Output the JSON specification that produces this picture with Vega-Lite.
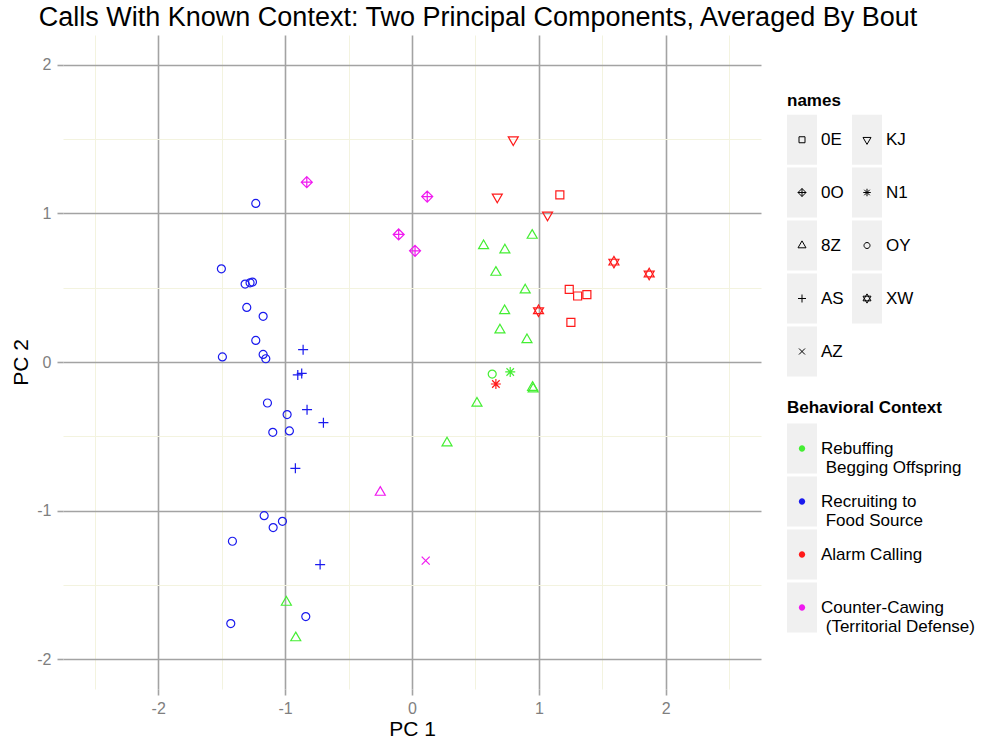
{
  "$schema": "https://vega.github.io/schema/vega-lite/v6.json",
  "width": 698,
  "height": 654,
  "autosize": {"type": "none"},
  "padding": {"left": 63, "top": 35, "right": 225, "bottom": 55},
  "background": "white",
  "config": {"font": "Liberation Sans", "view": {"stroke": null}, "style": {"guide-label": {"lineHeight": 19}}},
  "title": {
    "text": "Calls With Known Context: Two Principal Components, Averaged By Bout",
    "fontSize": 27, "fontWeight": "normal", "color": "black",
    "anchor": "middle", "frame": "group", "dx": 66, "dy": 26, "baseline": "alphabetic", "offset": 8
  },
  "data": {"values": [
    {"pc1": -1.231, "pc2": 1.067, "name": "OY", "context": "Recruiting to\n Food Source"},
    {"pc1": -1.502, "pc2": 0.627, "name": "OY", "context": "Recruiting to\n Food Source"},
    {"pc1": -1.315, "pc2": 0.524, "name": "OY", "context": "Recruiting to\n Food Source"},
    {"pc1": -1.276, "pc2": 0.533, "name": "OY", "context": "Recruiting to\n Food Source"},
    {"pc1": -1.257, "pc2": 0.538, "name": "OY", "context": "Recruiting to\n Food Source"},
    {"pc1": -1.302, "pc2": 0.367, "name": "OY", "context": "Recruiting to\n Food Source"},
    {"pc1": -1.173, "pc2": 0.307, "name": "OY", "context": "Recruiting to\n Food Source"},
    {"pc1": -1.231, "pc2": 0.145, "name": "OY", "context": "Recruiting to\n Food Source"},
    {"pc1": -1.494, "pc2": 0.034, "name": "OY", "context": "Recruiting to\n Food Source"},
    {"pc1": -1.173, "pc2": 0.051, "name": "OY", "context": "Recruiting to\n Food Source"},
    {"pc1": -1.152, "pc2": 0.022, "name": "OY", "context": "Recruiting to\n Food Source"},
    {"pc1": -1.139, "pc2": -0.276, "name": "OY", "context": "Recruiting to\n Food Source"},
    {"pc1": -0.984, "pc2": -0.354, "name": "OY", "context": "Recruiting to\n Food Source"},
    {"pc1": -1.097, "pc2": -0.473, "name": "OY", "context": "Recruiting to\n Food Source"},
    {"pc1": -0.966, "pc2": -0.464, "name": "OY", "context": "Recruiting to\n Food Source"},
    {"pc1": -1.165, "pc2": -1.034, "name": "OY", "context": "Recruiting to\n Food Source"},
    {"pc1": -1.021, "pc2": -1.072, "name": "OY", "context": "Recruiting to\n Food Source"},
    {"pc1": -1.094, "pc2": -1.114, "name": "OY", "context": "Recruiting to\n Food Source"},
    {"pc1": -1.415, "pc2": -1.206, "name": "OY", "context": "Recruiting to\n Food Source"},
    {"pc1": -0.837, "pc2": -1.713, "name": "OY", "context": "Recruiting to\n Food Source"},
    {"pc1": -1.428, "pc2": -1.760, "name": "OY", "context": "Recruiting to\n Food Source"},
    {"pc1": -0.858, "pc2": 0.083, "name": "AS", "context": "Recruiting to\n Food Source"},
    {"pc1": -0.900, "pc2": -0.087, "name": "AS", "context": "Recruiting to\n Food Source"},
    {"pc1": -0.869, "pc2": -0.077, "name": "AS", "context": "Recruiting to\n Food Source"},
    {"pc1": -0.827, "pc2": -0.321, "name": "AS", "context": "Recruiting to\n Food Source"},
    {"pc1": -0.698, "pc2": -0.408, "name": "AS", "context": "Recruiting to\n Food Source"},
    {"pc1": -0.919, "pc2": -0.715, "name": "AS", "context": "Recruiting to\n Food Source"},
    {"pc1": -0.724, "pc2": -1.363, "name": "AS", "context": "Recruiting to\n Food Source"},
    {"pc1": -0.990, "pc2": -1.617, "name": "8Z", "context": "Rebuffing\n Begging Offspring"},
    {"pc1": -0.916, "pc2": -1.856, "name": "8Z", "context": "Rebuffing\n Begging Offspring"},
    {"pc1": 0.947, "pc2": 0.852, "name": "8Z", "context": "Rebuffing\n Begging Offspring"},
    {"pc1": 0.564, "pc2": 0.782, "name": "8Z", "context": "Rebuffing\n Begging Offspring"},
    {"pc1": 0.732, "pc2": 0.753, "name": "8Z", "context": "Rebuffing\n Begging Offspring"},
    {"pc1": 0.661, "pc2": 0.603, "name": "8Z", "context": "Rebuffing\n Begging Offspring"},
    {"pc1": 0.892, "pc2": 0.484, "name": "8Z", "context": "Rebuffing\n Begging Offspring"},
    {"pc1": 0.730, "pc2": 0.345, "name": "8Z", "context": "Rebuffing\n Begging Offspring"},
    {"pc1": 0.693, "pc2": 0.215, "name": "8Z", "context": "Rebuffing\n Begging Offspring"},
    {"pc1": 0.906, "pc2": 0.150, "name": "8Z", "context": "Rebuffing\n Begging Offspring"},
    {"pc1": 0.955, "pc2": -0.182, "name": "8Z", "context": "Rebuffing\n Begging Offspring"},
    {"pc1": 0.950, "pc2": -0.171, "name": "8Z", "context": "Rebuffing\n Begging Offspring"},
    {"pc1": 0.512, "pc2": -0.278, "name": "8Z", "context": "Rebuffing\n Begging Offspring"},
    {"pc1": 0.276, "pc2": -0.545, "name": "8Z", "context": "Rebuffing\n Begging Offspring"},
    {"pc1": 0.632, "pc2": -0.081, "name": "OY", "context": "Rebuffing\n Begging Offspring"},
    {"pc1": 0.774, "pc2": -0.067, "name": "N1", "context": "Rebuffing\n Begging Offspring"},
    {"pc1": 0.798, "pc2": 1.495, "name": "KJ", "context": "Alarm Calling"},
    {"pc1": 0.672, "pc2": 1.110, "name": "KJ", "context": "Alarm Calling"},
    {"pc1": 1.068, "pc2": 0.989, "name": "KJ", "context": "Alarm Calling"},
    {"pc1": 1.165, "pc2": 1.125, "name": "0E", "context": "Alarm Calling"},
    {"pc1": 1.239, "pc2": 0.488, "name": "0E", "context": "Alarm Calling"},
    {"pc1": 1.305, "pc2": 0.444, "name": "0E", "context": "Alarm Calling"},
    {"pc1": 1.378, "pc2": 0.453, "name": "0E", "context": "Alarm Calling"},
    {"pc1": 1.252, "pc2": 0.266, "name": "0E", "context": "Alarm Calling"},
    {"pc1": 1.591, "pc2": 0.672, "name": "XW", "context": "Alarm Calling"},
    {"pc1": 1.869, "pc2": 0.592, "name": "XW", "context": "Alarm Calling"},
    {"pc1": 0.997, "pc2": 0.345, "name": "XW", "context": "Alarm Calling"},
    {"pc1": 0.661, "pc2": -0.148, "name": "N1", "context": "Alarm Calling"},
    {"pc1": -0.829, "pc2": 1.210, "name": "0O", "context": "Counter-Cawing\n (Territorial Defense)"},
    {"pc1": 0.120, "pc2": 1.113, "name": "0O", "context": "Counter-Cawing\n (Territorial Defense)"},
    {"pc1": -0.105, "pc2": 0.858, "name": "0O", "context": "Counter-Cawing\n (Territorial Defense)"},
    {"pc1": 0.024, "pc2": 0.748, "name": "0O", "context": "Counter-Cawing\n (Territorial Defense)"},
    {"pc1": -0.250, "pc2": -0.877, "name": "8Z", "context": "Counter-Cawing\n (Territorial Defense)"},
    {"pc1": 0.108, "pc2": -1.336, "name": "AZ", "context": "Counter-Cawing\n (Territorial Defense)"}
  ]},
  "encoding": {
    "x": {
      "field": "pc1", "type": "quantitative", "title": "PC 1",
      "scale": {"domain": [-2.75, 2.75], "nice": false, "zero": false},
      "axis": {
        "values": [-2.5, -2, -1.5, -1, -0.5, 0, 0.5, 1, 1.5, 2, 2.5],
        "labelExpr": "datum.value % 1 === 0 ? toString(datum.value) : ''",
        "grid": true,
        "gridColor": {"condition": {"test": "datum.value % 1 !== 0", "value": "#f3f3df"}, "value": "#a3a3a3"},
        "gridWidth": {"condition": {"test": "datum.value % 1 !== 0", "value": 1}, "value": 1.6},
        "domain": false,
        "tickColor": {"condition": {"test": "datum.value % 1 !== 0", "value": "transparent"}, "value": "#a3a3a3"},
        "tickSize": 6, "tickWidth": 1.6,
        "labelColor": "#7f7f7f", "labelFontSize": 16, "labelPadding": 5,
        "labelOverlap": false, "labelFlush": false,
        "titleFontSize": 21, "titleFontWeight": "normal", "titleColor": "black", "titlePadding": 2
      }
    },
    "y": {
      "field": "pc2", "type": "quantitative", "title": "PC 2",
      "scale": {"domain": [-2.2, 2.2], "nice": false, "zero": false},
      "axis": {
        "values": [-2, -1.5, -1, -0.5, 0, 0.5, 1, 1.5, 2],
        "labelExpr": "datum.value % 1 === 0 ? toString(datum.value) : ''",
        "grid": true,
        "gridColor": {"condition": {"test": "datum.value % 1 !== 0", "value": "#f3f3df"}, "value": "#a3a3a3"},
        "gridWidth": {"condition": {"test": "datum.value % 1 !== 0", "value": 1}, "value": 1.6},
        "domain": false,
        "tickColor": {"condition": {"test": "datum.value % 1 !== 0", "value": "transparent"}, "value": "#a3a3a3"},
        "tickSize": 6, "tickWidth": 1.6,
        "labelColor": "#7f7f7f", "labelFontSize": 16, "labelPadding": 6,
        "labelOverlap": false, "labelFlush": false,
        "titleFontSize": 21, "titleFontWeight": "normal", "titleColor": "black", "titlePadding": 5
      }
    }
  },
  "layer": [
    {
      "mark": {"type": "point", "filled": true, "opacity": 0, "size": 4},
      "encoding": {
        "shape": {
          "field": "name", "type": "nominal", "title": "names",
          "scale": {
            "domain": ["0E", "0O", "8Z", "AS", "AZ", "KJ", "N1", "OY", "XW"],
            "range": ["M-0.6,-1L0.6,-1L0.6,1L-0.6,1Z", "M-0.6,-1L0.6,-1L0.6,1L-0.6,1Z", "M-0.6,-1L0.6,-1L0.6,1L-0.6,1Z", "M-0.6,-1L0.6,-1L0.6,1L-0.6,1Z", "M-0.6,-1L0.6,-1L0.6,1L-0.6,1Z", "M-0.6,-1L0.6,-1L0.6,1L-0.6,1Z", "M-0.6,-1L0.6,-1L0.6,1L-0.6,1Z", "M-0.6,-1L0.6,-1L0.6,1L-0.6,1Z", "M-0.6,-1L0.6,-1L0.6,1L-0.6,1Z"]
          },
          "legend": {
            "orient": "none", "legendX": 724, "legendY": 58, "zindex": 0,
            "columns": 2, "columnPadding": 6, "rowPadding": -4,
            "symbolSize": 2500, "symbolStrokeWidth": 1, "symbolStrokeColor": "transparent", "symbolFillColor": "#f0f0f0", "symbolOffset": -10.5, "symbolOpacity": 1,
            "labelFontSize": 17, "labelColor": "transparent", "labelOffset": -6.5, "labelLimit": 300,
            "titleFontSize": 17, "titleFontWeight": "bold", "titleColor": "black", "titlePadding": 4
          }
        },
        "color": {
          "field": "context", "type": "nominal", "title": "Behavioral Context",
          "scale": {
            "domain": ["Rebuffing\n Begging Offspring", "Recruiting to\n Food Source", "Alarm Calling", "Counter-Cawing\n (Territorial Defense)"],
            "range": ["#f0f0f0", "#f0f0f0", "#f0f0f0", "#f0f0f0"]
          },
          "legend": {
            "orient": "none", "legendX": 724, "legendY": 365, "zindex": 0,
            "rowPadding": -4,
            "symbolType": "M-0.6,-1L0.6,-1L0.6,1L-0.6,1Z",
            "symbolSize": 2500, "symbolStrokeWidth": 1, "symbolStrokeColor": "transparent", "symbolOffset": -10.5, "symbolOpacity": 1,
            "labelFontSize": 17, "labelColor": "transparent", "labelOffset": -6.5, "labelLimit": 300,
            "labelExpr": "split(replace(datum.label, '\\n ', '\\n\u200b\u00a0'), '\\n')",
            "titleFontSize": 17, "titleFontWeight": "bold", "titleColor": "black", "titlePadding": 6
          }
        }
      }
    },
    {
      "mark": {"type": "point", "filled": false, "strokeWidth": 1.2, "size": 100, "opacity": 1},
      "encoding": {
        "shape": {
          "field": "name", "type": "nominal", "legend": null,
          "scale": {
            "domain": ["0E", "0O", "8Z", "AS", "AZ", "KJ", "N1", "OY", "XW"],
            "range": [
              "M-0.8,-0.8L0.8,-0.8L0.8,0.8L-0.8,0.8Z",
              "M0,-1.1L1.1,0L0,1.1L-1.1,0ZM0,-1.1L0,1.1M-1.1,0L1.1,0",
              "M0,-1.155L1,0.577L-1,0.577Z",
              "M-1,0L1,0M0,-1L0,1",
              "M-0.8,-0.8L0.8,0.8M-0.8,0.8L0.8,-0.8",
              "M0,1.155L1,-0.577L-1,-0.577Z",
              "M-1,0L1,0M0,-1L0,1M-0.75,-0.75L0.75,0.75M-0.75,0.75L0.75,-0.75",
              "M0.8,0A0.8,0.8,0,1,1,-0.8,0A0.8,0.8,0,1,1,0.8,0Z",
              "M0,-1.155L1,0.577L-1,0.577ZM0,1.155L1,-0.577L-1,-0.577Z"
            ]
          }
        },
        "color": {
          "field": "context", "type": "nominal", "legend": null,
          "scale": {
            "domain": ["Rebuffing\n Begging Offspring", "Recruiting to\n Food Source", "Alarm Calling", "Counter-Cawing\n (Territorial Defense)"],
            "range": ["#44ee33", "#1a1aee", "#ff1a1a", "#f01af0"]
          }
        }
      }
    },
    {
      "mark": {"type": "point", "filled": false, "opacity": 0, "size": 4},
      "encoding": {
        "shape": {
          "field": "name", "type": "nominal", "title": "names",
          "scale": {
            "domain": ["0E", "0O", "8Z", "AS", "AZ", "KJ", "N1", "OY", "XW"],
            "range": [
              "M-0.6,-1M0.6,1M-0.12,-0.12L0.12,-0.12L0.12,0.12L-0.12,0.12Z",
              "M-0.6,-1M0.6,1M0,-0.16L0.16,0L0,0.16L-0.16,0ZM0,-0.16L0,0.16M-0.16,0L0.16,0",
              "M-0.6,-1M0.6,1M0,-0.185L0.16,0.092L-0.16,0.092Z",
              "M-0.6,-1M0.6,1M-0.16,0L0.16,0M0,-0.16L0,0.16",
              "M-0.6,-1M0.6,1M-0.12,-0.12L0.12,0.12M-0.12,0.12L0.12,-0.12",
              "M-0.6,-1M0.6,1M0,0.185L0.16,-0.092L-0.16,-0.092Z",
              "M-0.6,-1M0.6,1M-0.15,0L0.15,0M0,-0.15L0,0.15M-0.11,-0.11L0.11,0.11M-0.11,0.11L0.11,-0.11",
              "M-0.6,-1M0.6,1M0.12,0A0.12,0.12,0,1,1,-0.12,0A0.12,0.12,0,1,1,0.12,0Z",
              "M-0.6,-1M0.6,1M0,-0.185L0.16,0.092L-0.16,0.092ZM0,0.185L0.16,-0.092L-0.16,-0.092Z"
            ]
          },
          "legend": {
            "orient": "none", "legendX": 724, "legendY": 58, "zindex": 1,
            "columns": 2, "columnPadding": 6, "rowPadding": -4,
            "symbolSize": 2500, "symbolStrokeWidth": 1, "symbolStrokeColor": "black", "symbolFillColor": "transparent", "symbolOffset": -10.5, "symbolOpacity": 1,
            "labelFontSize": 17, "labelColor": "black", "labelOffset": -6.5, "labelLimit": 300,
            "titleFontSize": 17, "titleFontWeight": "bold", "titleColor": "transparent", "titlePadding": 4
          }
        },
        "fill": {
          "field": "context", "type": "nominal", "title": "Behavioral Context",
          "scale": {
            "domain": ["Rebuffing\n Begging Offspring", "Recruiting to\n Food Source", "Alarm Calling", "Counter-Cawing\n (Territorial Defense)"],
            "range": ["#44ee33", "#1a1aee", "#ff1a1a", "#f01af0"]
          },
          "legend": {
            "orient": "none", "legendX": 724, "legendY": 365, "zindex": 1,
            "rowPadding": -4,
            "symbolType": "M-0.6,-1M0.6,1M0.126,0A0.126,0.126,0,1,1,-0.126,0A0.126,0.126,0,1,1,0.126,0Z",
            "symbolSize": 2500, "symbolStrokeWidth": 1, "symbolStrokeColor": "transparent", "symbolOffset": -10.5, "symbolOpacity": 1,
            "labelFontSize": 17, "labelColor": "black", "labelOffset": -6.5, "labelLimit": 300,
            "labelExpr": "split(replace(datum.label, '\\n ', '\\n\u200b\u00a0'), '\\n')",
            "titleFontSize": 17, "titleFontWeight": "bold", "titleColor": "transparent", "titlePadding": 6
          }
        }
      }
    }
  ],
  "resolve": {"scale": {"shape": "independent", "color": "independent", "fill": "independent"}}
}
